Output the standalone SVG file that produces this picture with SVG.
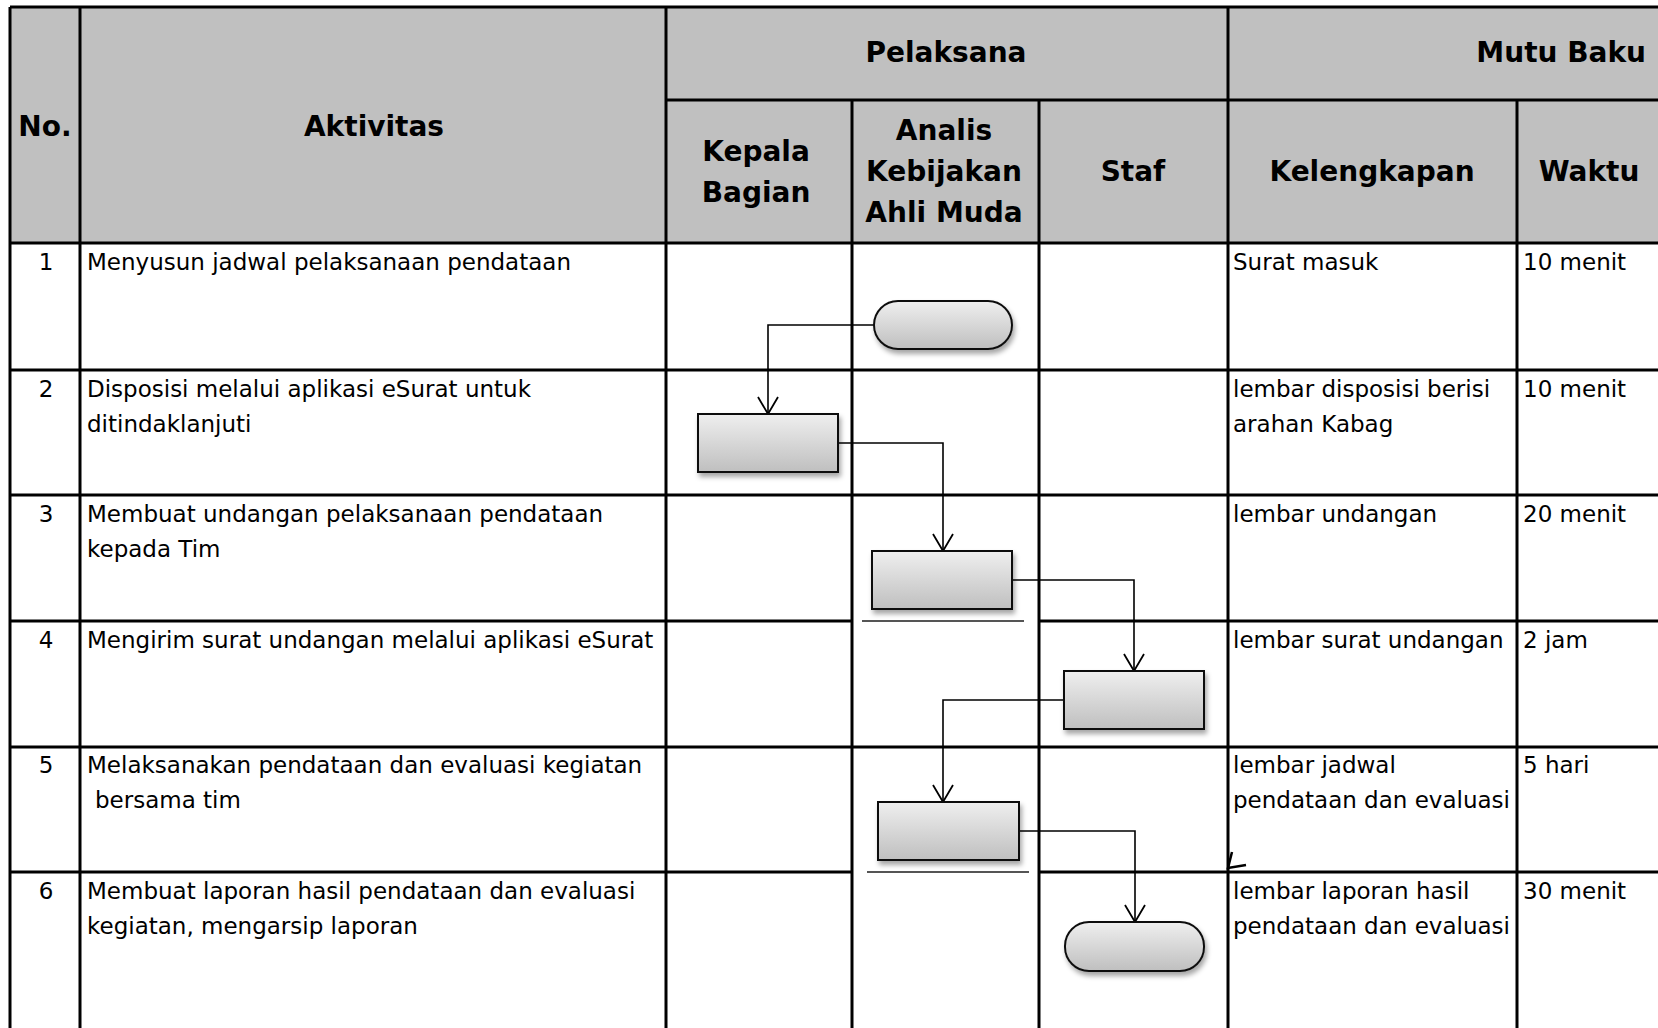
<svg xmlns="http://www.w3.org/2000/svg" width="1658" height="1028" viewBox="0 0 1658 1028">
<style>
.g{stroke:#000;stroke-width:3;fill:none}
.gl{stroke:#555;stroke-width:2.2;fill:none}
.h{font-family:"DejaVu Sans","Verdana",sans-serif;font-weight:bold;font-size:28px;fill:#000}
.t{font-family:"DejaVu Sans","Verdana",sans-serif;font-size:23px;fill:#000}
.c{text-anchor:middle}
.shape{fill:url(#gr);stroke:#111;stroke-width:2;filter:url(#sh)}
.conn{fill:none;stroke:#000;stroke-width:1.6;marker-end:url(#arr)}
</style>
<defs>
<linearGradient id="gr" x1="0" y1="0" x2="0" y2="1">
<stop offset="0" stop-color="#efefef"/>
<stop offset="1" stop-color="#bfbfbf"/>
</linearGradient>
<filter id="sh" x="-20%" y="-30%" width="140%" height="170%">
<feDropShadow dx="2" dy="4" stdDeviation="2.5" flood-color="#000" flood-opacity="0.35"/>
</filter>
<marker id="arr" markerUnits="userSpaceOnUse" viewBox="-20 -12 22 24" markerWidth="22" markerHeight="24" refX="0" refY="0" orient="auto" overflow="visible">
<path d="M-17,-10 L0,0 L-17,10" fill="none" stroke="#000" stroke-width="1.8"/>
</marker>
</defs>
<rect width="1658" height="1028" fill="#fff"/>
<g id="table">
<rect x="10" y="7" width="1648" height="236" fill="#c0c0c0"/>
<path class="g" d="M10,7H1658 M10,7V1028 M80,7V1028 M666,7V1028 M1228,7V1028 M852,100V1028 M1039,100V1028 M1517,100V1028 M666,100H1658 M10,243H1658 M10,370H1658 M10,495H1658 M10,621H852 M1039,621H1658 M10,747H1658 M10,872H852 M1039,872H1658"/>
<path class="gl" d="M862,621H1024 M867,872H1029"/>
<path d="M1232,852 L1228,868 L1246,865" fill="none" stroke="#000" stroke-width="2.5"/>
</g>
<g id="header">
<text class="h c" x="45" y="136">No.</text>
<text class="h c" x="374" y="136">Aktivitas</text>
<text class="h c" x="946" y="62">Pelaksana</text>
<text class="h" x="1646" y="62" text-anchor="end">Mutu Baku</text>
<text class="h c" x="756" y="161">Kepala</text>
<text class="h c" x="756" y="202">Bagian</text>
<text class="h c" x="944" y="140">Analis</text>
<text class="h c" x="944" y="181">Kebijakan</text>
<text class="h c" x="944" y="222">Ahli Muda</text>
<text class="h c" x="1133" y="181">Staf</text>
<text class="h c" x="1372" y="181">Kelengkapan</text>
<text class="h c" x="1589" y="181">Waktu</text>
</g>
<g id="rows">
<text class="t c" x="46" y="270">1</text>
<text class="t" x="87" y="270">Menyusun jadwal pelaksanaan pendataan</text>
<text class="t" x="1233" y="270">Surat masuk</text>
<text class="t" x="1523" y="270">10 menit</text>
<text class="t c" x="46" y="397">2</text>
<text class="t" x="87" y="397">Disposisi melalui aplikasi eSurat untuk</text>
<text class="t" x="87" y="432">ditindaklanjuti</text>
<text class="t" x="1233" y="397">lembar disposisi berisi</text>
<text class="t" x="1233" y="432">arahan Kabag</text>
<text class="t" x="1523" y="397">10 menit</text>
<text class="t c" x="46" y="522">3</text>
<text class="t" x="87" y="522">Membuat undangan pelaksanaan pendataan</text>
<text class="t" x="87" y="557">kepada Tim</text>
<text class="t" x="1233" y="522">lembar undangan</text>
<text class="t" x="1523" y="522">20 menit</text>
<text class="t c" x="46" y="648">4</text>
<text class="t" x="87" y="648">Mengirim surat undangan melalui aplikasi eSurat</text>
<text class="t" x="1233" y="648">lembar surat undangan</text>
<text class="t" x="1523" y="648">2 jam</text>
<text class="t c" x="46" y="773">5</text>
<text class="t" x="87" y="773">Melaksanakan pendataan dan evaluasi kegiatan</text>
<text class="t" x="95" y="808">bersama tim</text>
<text class="t" x="1233" y="773">lembar jadwal</text>
<text class="t" x="1233" y="808">pendataan dan evaluasi</text>
<text class="t" x="1523" y="773">5 hari</text>
<text class="t c" x="46" y="899">6</text>
<text class="t" x="87" y="899">Membuat laporan hasil pendataan dan evaluasi</text>
<text class="t" x="87" y="934">kegiatan, mengarsip laporan</text>
<text class="t" x="1233" y="899">lembar laporan hasil</text>
<text class="t" x="1233" y="934">pendataan dan evaluasi</text>
<text class="t" x="1523" y="899">30 menit</text>
</g>
<g id="connectors">
<path class="conn" d="M874,325 H768 V414"/>
<path class="conn" d="M838,443 H943 V551"/>
<path class="conn" d="M1012,580 H1134 V671"/>
<path class="conn" d="M1064,700 H943 V802"/>
<path class="conn" d="M1019,831 H1135 V922"/>
</g>
<g id="n1"><rect class="shape" x="874" y="301" width="138" height="48" rx="24"/></g>
<g id="n2"><rect class="shape" x="698" y="414" width="140" height="58"/></g>
<g id="n3"><rect class="shape" x="872" y="551" width="140" height="58"/></g>
<g id="n4"><rect class="shape" x="1064" y="671" width="140" height="58"/></g>
<g id="n5"><rect class="shape" x="878" y="802" width="141" height="58"/></g>
<g id="n6"><rect class="shape" x="1065" y="922" width="139" height="49" rx="24"/></g>
</svg>
